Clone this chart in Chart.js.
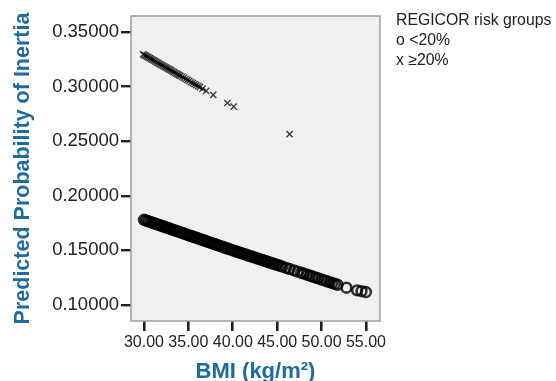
<!DOCTYPE html>
<html>
<head>
<meta charset="utf-8">
<script src="https://cdn.jsdelivr.net/npm/chart.js@4.4.1/dist/chart.umd.min.js"></script>
<style>
  html, body { margin: 0; padding: 0; background: #ffffff; }
  #wrap { position: relative; width: 556px; height: 381px; }
  #legend { position: absolute; left: 396px; top: 10px; font-family: 'Liberation Sans', Arial, sans-serif;
            font-size: 15.8px; line-height: 20px; color: #222; white-space: nowrap; }
</style>
</head>
<body>
<div id="wrap">
  <canvas id="c" width="556" height="381"></canvas>
  <div id="legend">REGICOR risk groups<br>o &lt;20%<br>x ≥20%</div>
</div>
<script>
// ---- Data ----
const lowRiskBMI = [
  30.0,30.2,30.4,30.6,30.8,31.0,31.2,31.4,31.6,31.8,32.0,32.2,32.4,32.6,32.8,33.0,33.2,33.4,33.6,33.8,
  34.0,34.2,34.4,34.6,34.8,35.0,35.2,35.4,35.6,35.8,36.0,36.2,36.4,36.6,36.8,37.0,37.2,37.4,37.6,37.8,
  38.0,38.2,38.4,38.6,38.8,39.0,39.2,39.4,39.6,39.8,40.0,40.2,40.4,40.6,40.8,41.0,41.2,41.4,41.6,41.8,
  42.0,42.2,42.4,42.6,42.8,43.0,43.2,43.4,43.6,43.8,44.0,44.2,44.4,44.6,44.8,45.0,
  45.3,45.6,46.0,46.4,46.9,47.3,47.7,48.0,48.4,48.7,49.0,49.3,49.6,50.0,50.3,50.6,50.9,51.2,51.5,51.8,
  52.8,54.0,54.5,55.0];
const lowRiskProb = [
  0.1780,0.1774,0.1769,0.1763,0.1758,0.1752,0.1746,0.1741,0.1735,0.1730,0.1724,0.1718,0.1713,0.1707,0.1702,0.1696,0.1690,0.1685,0.1679,0.1674,
  0.1668,0.1662,0.1657,0.1651,0.1646,0.1640,0.1634,0.1629,0.1623,0.1618,0.1612,0.1606,0.1601,0.1595,0.1590,0.1584,0.1578,0.1573,0.1567,0.1562,
  0.1556,0.1550,0.1545,0.1539,0.1534,0.1528,0.1522,0.1517,0.1511,0.1506,0.1500,0.1495,0.1489,0.1484,0.1479,0.1473,0.1468,0.1463,0.1457,0.1452,
  0.1447,0.1441,0.1436,0.1431,0.1425,0.1420,0.1415,0.1409,0.1404,0.1399,0.1393,0.1388,0.1383,0.1377,0.1372,0.1367,
  0.1359,0.1351,0.1340,0.1329,0.1316,0.1305,0.1295,0.1287,0.1276,0.1268,0.1260,0.1252,0.1244,0.1233,0.1225,0.1217,0.1209,0.1201,0.1193,0.1185,
  0.1158,0.1134,0.1126,0.1118];

const highRiskBMI = [
  29.9,30.05,30.2,30.35,30.5,30.65,30.8,30.95,31.1,31.25,31.4,31.55,31.7,31.85,32.0,32.15,32.3,32.45,32.6,32.75,
  32.9,33.05,33.2,33.35,33.5,33.65,33.8,33.95,34.1,34.3,34.5,34.7,34.9,35.1,35.3,35.5,35.7,35.9,36.1,36.3,
  36.6,37.0,37.8,39.4,40.1,46.4];
const highRiskProb = [
  0.3296,0.3289,0.3282,0.3275,0.3268,0.3261,0.3254,0.3247,0.3240,0.3233,0.3226,0.3218,0.3211,0.3204,0.3197,0.3190,0.3183,0.3176,0.3169,0.3162,
  0.3155,0.3148,0.3141,0.3134,0.3127,0.3120,0.3113,0.3106,0.3099,0.3089,0.3080,0.3070,0.3061,0.3052,0.3042,0.3033,0.3023,0.3014,0.3005,0.2995,
  0.2981,0.2962,0.2925,0.2850,0.2817,0.2564];

const xTickValues = [30, 35, 40, 45, 50, 55];
const yTickValues = [0.10, 0.15, 0.20, 0.25, 0.30, 0.35];

const xTitle = 'BMI (kg/m²)';
const yTitle = 'Predicted Probability of Inertia';
const seriesNames = ['<20%', '≥20%'];

// ---- Build ----
const toPts = (xs, ys) => xs.map((x, i) => ({ x: x, y: ys[i] }));
const FONT = "'Liberation Sans', Arial, sans-serif";
const TITLE_COLOR = '#1d6ba3';

const plotFrame = {
  id: 'plotFrame',
  beforeDatasetsDraw(chart) {
    const { ctx, chartArea: a } = chart;
    ctx.save();
    ctx.fillStyle = '#eff1f0';
    ctx.fillRect(a.left, a.top, a.right - a.left, a.bottom - a.top);
    ctx.restore();
  },
  afterDatasetsDraw(chart) {
    const { ctx, chartArea: a } = chart;
    ctx.save();
    ctx.strokeStyle = '#9c9c9c';
    ctx.lineWidth = 1.5;
    ctx.strokeRect(a.left, a.top, a.right - a.left, a.bottom - a.top);
    ctx.restore();
  }
};

new Chart(document.getElementById('c'), {
  type: 'scatter',
  data: {
    datasets: [
      {
        label: seriesNames[0],
        data: toPts(lowRiskBMI, lowRiskProb),
        pointStyle: 'circle',
        pointRadius: 4.9,
        pointBorderWidth: 2.6,
        pointBorderColor: 'rgba(0,0,0,0.8)',
        pointBackgroundColor: 'rgba(0,0,0,0)'
      },
      {
        label: seriesNames[1],
        data: toPts(highRiskBMI, highRiskProb),
        pointStyle: 'crossRot',
        pointRadius: 4.4,
        pointBorderWidth: 1.4,
        pointBorderColor: 'rgba(0,0,0,0.75)',
        pointBackgroundColor: 'rgba(0,0,0,0)'
      }
    ]
  },
  options: {
    responsive: false,
    animation: false,
    layout: { padding: { left: 4, top: 16, right: 176, bottom: 0 } },
    plugins: { legend: { display: false }, tooltip: { enabled: false } },
    scales: {
      x: {
        type: 'linear',
        min: 28.54, max: 56.58,
        afterBuildTicks: s => { s.ticks = xTickValues.map(v => ({ value: v })); },
        afterFit: s => { s.height = 60; },
        border: { display: false },
        grid: { drawOnChartArea: false, drawTicks: true, tickLength: 10, color: '#222', lineWidth: 2.6 },
        ticks: { color: '#222', font: { family: FONT, size: 16 }, padding: 2, maxRotation: 0,
                 callback: v => Number(v).toFixed(2) },
        title: { display: true, text: xTitle, color: TITLE_COLOR,
                 font: { family: FONT, size: 22, weight: 'bold', lineHeight: 1 }, padding: { top: 0, bottom: -2 } }
      },
      y: {
        type: 'linear',
        min: 0.0853, max: 0.3647,
        afterBuildTicks: s => { s.ticks = yTickValues.map(v => ({ value: v })); },
        afterFit: s => { s.width = 127; },
        border: { display: false },
        grid: { drawOnChartArea: false, drawTicks: true, tickLength: 10, color: '#222', lineWidth: 2.4 },
        ticks: { color: '#222', font: { family: FONT, size: 18.5 }, padding: 2,
                 callback: v => Number(v).toFixed(5) },
        title: { display: true, text: yTitle, color: TITLE_COLOR,
                 font: { family: FONT, size: 21.5, weight: 'bold', lineHeight: 1 }, padding: { top: 8, bottom: 0 } }
      }
    }
  },
  plugins: [plotFrame]
});
</script>
</body>
</html>
